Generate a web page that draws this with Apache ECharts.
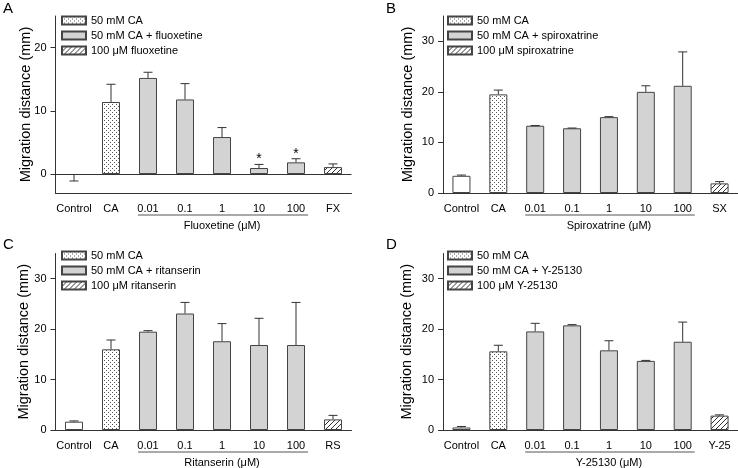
<!DOCTYPE html>
<html>
<head>
<meta charset="utf-8">
<script src="https://cdn.jsdelivr.net/npm/echarts@6/dist/echarts.min.js"></script>
<style>
  html, body { margin: 0; padding: 0; background: #fff; }
  #chart { width: 738px; height: 468px; }
</style>
</head>
<body>
<div id="chart"></div>
<script>
// categories
const doses = ['0.01', '0.1', '1', '10', '100'];
const catsA = ['Control', 'CA'].concat(doses, ['FX']);
const catsB = ['Control', 'CA'].concat(doses, ['SX']);
const catsC = ['Control', 'CA'].concat(doses, ['RS']);
const catsD = ['Control', 'CA'].concat(doses, ['Y-25']);
// which bar belongs to which group
const roles = ['ctrl', 'ca', 'drug', 'drug', 'drug', 'drug', 'drug', 'alone'];

// means and SEM
const valuesA = [-0.15, 11.4, 15.2, 11.8, 5.85, 0.95, 1.85, 1.1];
const errorsA = [0.95, 2.8, 0.9, 2.5, 1.5, 0.57, 0.57, 0.5];
const starsA = ['', '', '', '', '', '*', '*', ''];
const valuesB = [3.4, 19.5, 13.3, 12.8, 15.0, 20.0, 21.2, 1.9];
const errorsB = [0.15, 0.85, 0.05, 0.05, 0.1, 1.2, 6.7, 0.35];
const valuesC = [1.65, 16.0, 19.5, 23.1, 17.6, 16.85, 16.85, 2.1];
const errorsC = [0.15, 1.85, 0.2, 2.2, 3.5, 5.3, 8.45, 0.8];
const valuesD = [0.5, 15.6, 19.55, 20.75, 15.8, 13.7, 17.5, 2.85];
const errorsD = [0.2, 1.2, 1.6, 0.15, 1.9, 0.1, 3.9, 0.15];

// axes
const yTicksA = [0, 10, 20];
const yTicksB = [0, 10, 20, 30];
const legendA = ['50 mM CA', '50 mM CA + fluoxetine', '100 \u03bcM fluoxetine'];
const legendB = ['50 mM CA', '50 mM CA + spiroxatrine', '100 \u03bcM spiroxatrine'];
const legendC = ['50 mM CA', '50 mM CA + ritanserin', '100 \u03bcM ritanserin'];
const legendD = ['50 mM CA', '50 mM CA + Y-25130', '100 \u03bcM Y-25130'];
const groupTitles = ['Fluoxetine (\u03bcM)', 'Spiroxatrine (\u03bcM)', 'Ritanserin (\u03bcM)', 'Y-25130 (\u03bcM)'];

const FONT = 'Liberation Sans, Arial, sans-serif';
const INK = '#333';

function dotPattern() {
  const c = document.createElement('canvas');
  c.width = 4; c.height = 4;
  const g = c.getContext('2d');
  g.fillStyle = '#fff'; g.fillRect(0, 0, 4, 4);
  g.fillStyle = '#555';
  g.fillRect(0, 0, 1, 1); g.fillRect(2, 2, 1, 1);
  return { image: c, repeat: 'repeat' };
}
function hatchPattern() {
  const c = document.createElement('canvas');
  c.width = 5; c.height = 5;
  const g = c.getContext('2d');
  g.fillStyle = '#fff'; g.fillRect(0, 0, 5, 5);
  g.strokeStyle = '#333'; g.lineWidth = 1;
  g.beginPath();
  g.moveTo(0, 5); g.lineTo(5, 0);
  g.moveTo(-1, 1); g.lineTo(1, -1);
  g.moveTo(4, 6); g.lineTo(6, 4);
  g.stroke();
  return { image: c, repeat: 'repeat' };
}
const fills = { ctrl: '#fff', ca: dotPattern(), drug: '#d3d3d3', alone: hatchPattern() };

const panels = [
  { letter: 'A', cats: catsA, values: valuesA, errs: errorsA, stars: starsA, legend: legendA,
    yMin: -3, yMax: 25, ticks: yTicksA, zeroLine: true, nameGap: 22,
    grid: { left: 55.5, top: 16, width: 296, height: 177 }, lx: 61, ly: 15, tx: 3, ty: 1 },
  { letter: 'B', cats: catsB, values: valuesB, errs: errorsB, stars: null, legend: legendB,
    yMin: 0, yMax: 35, ticks: yTicksB, nameGap: 28,
    grid: { left: 443, top: 16, width: 296, height: 177 }, lx: 447, ly: 15, tx: 386, ty: 1 },
  { letter: 'C', cats: catsC, values: valuesC, errs: errorsC, stars: null, legend: legendC,
    yMin: 0, yMax: 35, ticks: yTicksB, nameGap: 24,
    grid: { left: 55.5, top: 253.5, width: 296, height: 176.5 }, lx: 61, ly: 250, tx: 3, ty: 237 },
  { letter: 'D', cats: catsD, values: valuesD, errs: errorsD, stars: null, legend: legendD,
    yMin: 0, yMax: 35, ticks: yTicksB, nameGap: 29,
    grid: { left: 443, top: 253.5, width: 296, height: 176.5 }, lx: 447, ly: 250, tx: 386, ty: 237 }
];

const option = {
  animation: false,
  backgroundColor: '#fff',
  textStyle: { fontFamily: FONT, color: '#000' },
  title: [], grid: [], xAxis: [], yAxis: [], legend: [], series: []
};

panels.forEach((p, k) => {
  option.title.push({ text: p.letter, left: p.tx, top: p.ty, padding: 0,
    textStyle: { fontFamily: FONT, fontSize: 15, fontWeight: 'normal', color: '#000' } });
  option.grid.push(p.grid);
  option.xAxis.push({
    type: 'category', gridIndex: k, data: p.cats, boundaryGap: true,
    axisLine: { onZero: false, lineStyle: { color: INK, width: 1 } },
    axisTick: { alignWithLabel: true, length: 4, lineStyle: { color: INK } },
    axisLabel: { color: '#000', fontSize: 11, margin: 10, fontFamily: FONT, interval: 0 }
  });
  option.yAxis.push({
    type: 'value', gridIndex: k, min: p.yMin, max: p.yMax,
    name: 'Migration distance (mm)', nameLocation: 'middle', nameGap: p.nameGap,
    nameMoveOverlap: false,
    nameTextStyle: { fontSize: 14.5, color: '#000', fontFamily: FONT },
    axisLine: { show: true, lineStyle: { color: INK, width: 1 } },
    axisTick: { show: true, length: 5, customValues: p.ticks, lineStyle: { color: INK } },
    axisLabel: { color: '#000', fontSize: 11, margin: 9, customValues: p.ticks, fontFamily: FONT },
    splitLine: { show: false }
  });
  option.legend.push({
    data: p.legend, orient: 'vertical', left: p.lx, top: p.ly, padding: 0,
    icon: 'rect', itemWidth: 24, itemHeight: 8, itemGap: 4,
    textStyle: { fontSize: 11, color: '#000', fontFamily: FONT },
    selectedMode: false
  });

  const names = { ctrl: 'Control', ca: p.legend[0], drug: p.legend[1], alone: p.legend[2] };
  ['ctrl', 'ca', 'drug', 'alone'].forEach(role => {
    const s = {
      type: 'bar', name: names[role], xAxisIndex: k, yAxisIndex: k,
      stack: 'p' + k, barWidth: 18,
      data: p.values.map((v, i) => roles[i] === role ? v : '-'),
      itemStyle: { color: fills[role], borderColor: '#444', borderWidth: 1 },
      z: 2
    };
    if (role === 'ctrl' && p.zeroLine) {
      s.markLine = { silent: true, symbol: 'none', label: { show: false },
        lineStyle: { color: INK, width: 1, type: 'solid' }, data: [{ yAxis: 0 }] };
    }
    option.series.push(s);
  });

  // error bars (drawn away from zero) with significance marks
  option.series.push({
    type: 'custom', xAxisIndex: k, yAxisIndex: k, z: 3, silent: true,
    data: p.values.map((v, i) => [i, v, p.errs[i]]),
    renderItem: (params, api) => {
      const i = api.value(0), v = api.value(1), e = api.value(2);
      const dir = v < 0 ? -1 : 1;
      const base = api.coord([i, v]);
      const tip = api.coord([i, v + dir * e]);
      const st = { stroke: INK, lineWidth: 1 };
      const kids = [
        { type: 'line', shape: { x1: base[0], y1: base[1], x2: tip[0], y2: tip[1] }, style: st },
        { type: 'line', shape: { x1: tip[0] - 4.5, y1: tip[1], x2: tip[0] + 4.5, y2: tip[1] }, style: st }
      ];
      if (p.stars && p.stars[i]) {
        kids.push({ type: 'text', style: { text: p.stars[i], x: tip[0], y: tip[1] + 2,
          align: 'center', verticalAlign: 'bottom', fontSize: 14, fontFamily: FONT, fill: '#000' } });
      }
      return { type: 'group', children: kids };
    }
  });

  // underline + title for the dose group
  option.series.push({
    type: 'custom', xAxisIndex: k, yAxisIndex: k, z: 3, silent: true,
    data: [[2, 6, p.yMin]],
    renderItem: (params, api) => {
      const a = api.coord([api.value(0), api.value(2)]);
      const b = api.coord([api.value(1), api.value(2)]);
      const mid = api.coord([(api.value(0) + api.value(1)) / 2, api.value(2)]);
      return { type: 'group', children: [
        { type: 'line', shape: { x1: a[0] - 10, y1: a[1] + 22, x2: b[0] + 12, y2: a[1] + 22 },
          style: { stroke: '#555', lineWidth: 1 } },
        { type: 'text', style: { text: groupTitles[k], x: mid[0], y: a[1] + 33,
          align: 'center', verticalAlign: 'middle', fontSize: 11, fontFamily: FONT, fill: '#000' } }
      ] };
    }
  });
});

const chart = echarts.init(document.getElementById('chart'));
chart.setOption(option);
</script>
</body>
</html>
